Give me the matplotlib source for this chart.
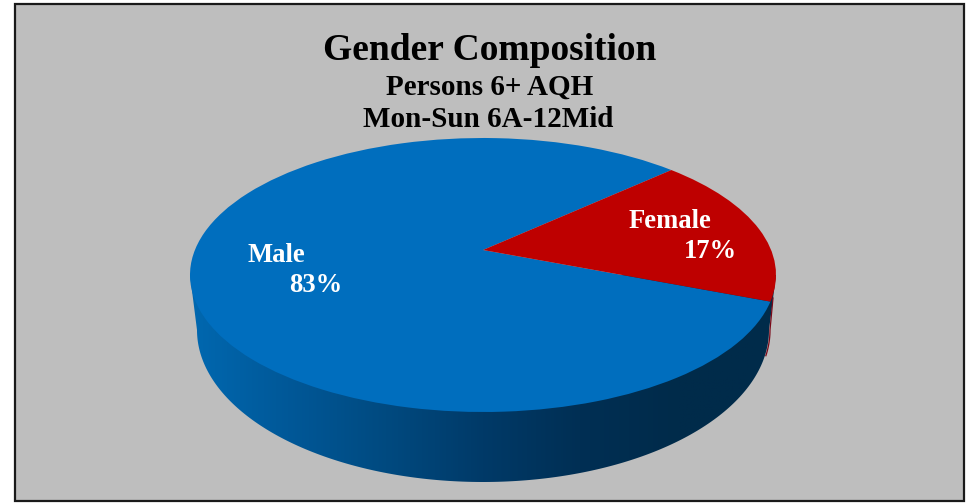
import numpy as np
import matplotlib
matplotlib.use("Agg")
import matplotlib.pyplot as plt
from matplotlib.colors import LinearSegmentedColormap
from matplotlib.patches import Polygon, Rectangle

W, H = 969, 503

categories = ["Male", "Female"]
shares = [83, 17]
slice_colors = ["#006EBE", "#BE0000"]
title = "Gender Composition"
subtitles = ["Persons 6+ AQH", "Mon-Sun 6A-12Mid"]

# pixel geometry of the fake 3D pie
TOP_CX, TOP_CY, TOP_RX, TOP_RY = 483, 275, 293, 137
APEX_Y = 250
BOT_CY, BOT_RX, BOT_RY = 330, 286, 152

plt.rcParams["font.family"] = ["Liberation Serif", "DejaVu Serif"]
plt.rcParams["font.weight"] = "bold"


def px(x, y):
    """Image pixel position to unit pie coordinates."""
    return (x - TOP_CX) / TOP_RX, (TOP_CY - y) / TOP_RY


fig = plt.figure(figsize=(W / 100, H / 100), dpi=100, facecolor="white")
ax = fig.add_axes([0, 0, 1, 1])

# grey panel
x0, y0 = px(14.5, 501)
x1, y1 = px(964, 4.5)
ax.add_patch(Rectangle((x0, y0), x1 - x0, y1 - y0, facecolor="#BEBEBE",
                       edgecolor="#1A1A1A", linewidth=1.6, zorder=0))

# side wall, lower half of a bottom ellipse joined up to the top ellipse
t = np.linspace(np.pi, 2 * np.pi, 200)
wall_x = TOP_CX + BOT_RX * np.cos(t)
wall_y = BOT_CY - BOT_RY * np.sin(t)
wall_pts = [px(a, b) for a, b in zip(wall_x, wall_y)]
wall_pts += [px(TOP_CX + TOP_RX, TOP_CY), px(TOP_CX - TOP_RX, TOP_CY)]
wall = Polygon(wall_pts, closed=True, facecolor="none", edgecolor="none", zorder=1)
ax.add_patch(wall)

wall_cmap = LinearSegmentedColormap.from_list(
    "wall", ["#0068B0", "#005898", "#004A80", "#003A68", "#002F54", "#002B4A", "#002B4A"])
gx0, gy0 = px(190, 490)
gx1, gy1 = px(776, 270)
im = ax.imshow(np.linspace(0, 1, 256).reshape(1, -1), cmap=wall_cmap, aspect="auto",
               extent=[gx0, gx1, gy0, gy1], zorder=1)
im.set_clip_path(wall)

# thin red edge of the female slice showing past the wall
s = np.linspace(0, -0.17, 12)
edge_x = np.r_[TOP_CX + TOP_RX - 3, TOP_CX + (BOT_RX + 1) * np.cos(s)]
edge_y = np.r_[298, BOT_CY - BOT_RY * np.sin(s)]
ax.plot(*px(edge_x, edge_y), color="#7A0818", lw=0.9, zorder=1)

# top face
wedges, _ = ax.pie(shares, colors=slice_colors, startangle=50,
                   wedgeprops={"linewidth": 0, "zorder": 2})
apex = px(TOP_CX, APEX_Y)
for w in wedges:
    verts = w.get_path().vertices
    verts[np.all(np.isclose(verts, 0), axis=1)] = apex

ax.set_aspect("auto")
ax.set_xlim(px(0, 0)[0], px(W, 0)[0])
ax.set_ylim(px(0, H)[1], px(0, 0)[1])
ax.axis("off")


def label(x, y, text, size, color="black"):
    ax.text(*px(x, y), text, fontsize=size, color=color, ha="center", va="center",
            fontweight="bold", zorder=3)


label(489.5, 51, title, 27)
label(490, 87, subtitles[0], 21)
label(488.5, 120, subtitles[1], 21)

label(276.5, 255, categories[0], 19.2, "white")
label(315.5, 285, f"{shares[0]}%", 19.2, "white")
label(670, 222, categories[1], 19.2, "white")
label(710, 252, f"{shares[1]}%", 19.2, "white")

fig.savefig("out.png", dpi=100, facecolor="white")
